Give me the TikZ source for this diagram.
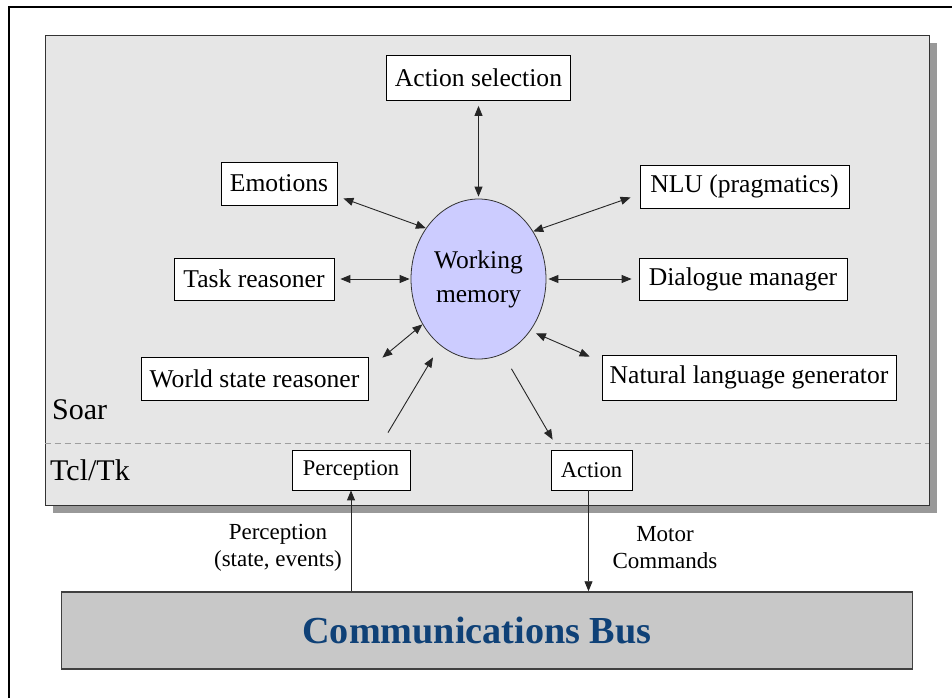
\documentclass[tikz,border=0pt]{standalone}
\usepackage{fontspec}
\setmainfont{Liberation Serif}
\usetikzlibrary{arrows.meta,shapes.geometric,shadows,calc}
\definecolor{panelgray}{HTML}{E6E6E6}
\definecolor{shadowgray}{HTML}{999999}
\definecolor{busgray}{HTML}{C8C8C8}
\definecolor{wmfill}{HTML}{CCCCFF}
\definecolor{busblue}{HTML}{0F4177}
\begin{document}
\begin{tikzpicture}[x=1pt,y=-1pt,
  box/.style={draw=black,line width=0.8pt,fill=white,inner sep=0pt,font=\fontsize{25.6}{30}\selectfont},
  sbox/.style={draw=black,line width=0.8pt,fill=white,inner sep=0pt,minimum height=40pt,font=\fontsize{22.5}{27}\selectfont},
  dbl/.style={{Triangle[length=10pt,width=8pt]}-{Triangle[length=10pt,width=8pt]},line width=0.9pt,draw=black!85},
  sgl/.style={-{Triangle[length=10pt,width=8pt]},line width=0.9pt,draw=black!85},
  lbl/.style={font=\fontsize{23}{27}\selectfont,align=center,inner sep=0pt},
  layer/.style={font=\fontsize{30}{34}\selectfont,anchor=west,inner sep=0pt}
]
\useasboundingbox (0,0) rectangle (952,698);
\draw[line width=1.5pt] (9,698) -- (9,7) -- (952,7);
% Soar / Tcl panel
\node[draw=black!80,line width=0.8pt,fill=panelgray,minimum width=884pt,minimum height=470pt,inner sep=0pt,
      drop shadow={shadow xshift=8pt,shadow yshift=-8pt,fill=shadowgray,opacity=1}] (panel) at (487,270) {};
\path (panel.west) ++(0,173) coordinate (dl);
\draw[draw=black!38,line width=1pt,dash pattern=on 6pt off 4pt] (dl) -- (dl -| panel.east);
\node[layer] (soar) at (52,410) {Soar};
\node[layer] (tcl) at (50,470) {Tcl/Tk};
% working memory
\node[ellipse,draw=black!80,line width=0.8pt,fill=wmfill,minimum width=135pt,minimum height=160pt,inner sep=0pt,
      align=center,font=\fontsize{25.5}{34}\selectfont] (wm) at (478.5,279) {Working\\memory};
% modules
\node[box,minimum width=184pt,minimum height=45pt] (as) at (478.5,78) {Action selection};
\node[box,minimum width=116pt,minimum height=43pt] (emo) at (279,183.5) {Emotions};
\node[box,minimum width=209pt,minimum height=43pt] (nlu) at (744.5,186.5) {NLU (pragmatics)};
\node[box,minimum width=160pt,minimum height=42pt] (tr) at (254,279) {Task reasoner};
\node[box,minimum width=208pt,minimum height=42pt] (dm) at (743,279) {Dialogue manager};
\node[box,minimum width=227pt,minimum height=43pt] (wsr) at (254.5,378.5) {World state reasoner};
\node[box,minimum width=294pt,minimum height=45pt] (nlg) at (749,377.5) {Natural language generator};
\node[sbox,minimum width=118pt] (perc) at (351,470) {Perception};
\node[sbox,minimum width=81pt] (act) at (591.5,470) {Action};
% bus
\node[draw=black!75,line width=1.5pt,fill=busgray,minimum width=851pt,minimum height=77pt,inner sep=0pt,
      font=\fontsize{38.2}{42}\selectfont\bfseries,text=busblue] (bus) at (487,630.5) {Communications Bus\hspace*{20pt}};
% connectors
\draw[dbl,shorten <=5pt,shorten >=2pt] (as.south) -- (wm.north);
\draw[dbl] ([shift={(6,-7)}]emo.south east) -- (wm.136);
\draw[dbl] ([shift={(-9,-11)}]nlu.south west) -- (wm.41);
\draw[dbl,shorten <=6pt,shorten >=1pt] (tr.east) -- (wm.west);
\draw[dbl,shorten <=7pt,shorten >=2pt] (dm.west) -- (wm.east);
\draw[dbl] ([shift={(14,1)}]wsr.north east) -- (wm.219);
\draw[dbl,shorten >=6pt] ([shift={(-12,2)}]nlg.north west) -- (wm.315);
\draw[sgl,shorten >=14pt] ([shift={(37,-17)}]perc.north) -- (wm.240);
\draw[sgl,shorten <=17pt] (wm.288) -- ([shift={(2,-10)}]act.north west);
\draw[sgl] (perc.south |- bus.north) -- (perc.south);
\draw[sgl] ([xshift=-3pt]act.south) -- ([xshift=-3pt]act.south |- bus.north);
\node[lbl] (plbl) at (278,548) {Perception\\(state, events)};
\node[lbl] (mlbl) at (665,548) {Motor\\Commands};
\end{tikzpicture}
\end{document}
